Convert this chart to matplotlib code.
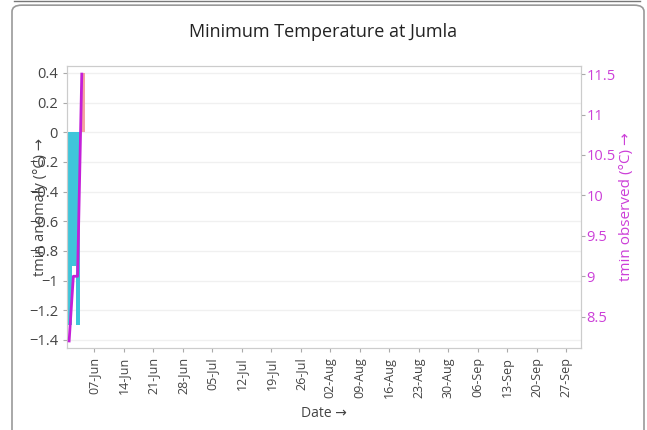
import numpy as np
import pandas as pd
import matplotlib
matplotlib.use("Agg")
import matplotlib.pyplot as plt
import matplotlib.dates as mdates
from matplotlib.patches import FancyBboxPatch

plt.rcParams['font.family'] = ['Open Sans', 'DejaVu Sans']

# данные
dates = pd.to_datetime(["2024-06-01", "2024-06-02", "2024-06-03", "2024-06-04"])
anomaly = [-1.3, -0.9, -1.3, 0.4]
observed = [8.2, 9.0, 9.0, 11.5]
left_ticks = [0.4, 0.2, 0, -0.2, -0.4, -0.6, -0.8, -1, -1.2, -1.4]
right_ticks = [8.5, 9, 9.5, 10, 10.5, 11, 11.5]

cyan = "#3fc5da"
pink = "#f4a3a0"
mag_line = "#c41fd8"
mag_text = "#cc3fd8"
txt = "#444444"

fig = plt.figure(figsize=(6.47, 4.3), dpi=100)
ax = fig.add_axes([0.1036, 0.1907, 0.7944, 0.6558])

# рамка вокруг всего графика
box = FancyBboxPatch((12 / 647, -0.1), 632 / 647, 1.088,
                     boxstyle="round,pad=0,rounding_size=0.015",
                     transform=fig.transFigure, fill=False,
                     edgecolor="#999999", linewidth=1.2)
fig.patches.append(box)
fig.add_artist(plt.Line2D([14 / 647, 640 / 647], [429 / 430, 429 / 430],
                          transform=fig.transFigure, color="#777777", lw=1))

# столбики аномалий (немного смещены влево от даты)
colors = [pink if a > 0 else cyan for a in anomaly]
ax.bar(dates - pd.Timedelta(hours=7), anomaly, width=0.95, align='edge',
       color=colors, linewidth=0, zorder=2)

ax.set_xlim(pd.Timestamp("2024-05-31 12:00"), pd.Timestamp("2024-09-30 12:00"))
ax.set_ylim(-1.454, 0.447)
ax.set_yticks(left_ticks)
ax.set_yticklabels([f"{v:g}".replace("-", "\u2212") for v in left_ticks])
ax.grid(axis='y', color="#f0f0f0", lw=1, zorder=0)

ax.xaxis.set_major_locator(mdates.WeekdayLocator(byweekday=mdates.FR))
ax.xaxis.set_major_formatter(mdates.DateFormatter("%d-%b"))
ax.tick_params(axis='x', rotation=90, labelsize=9, colors=txt, length=3, color="#aaaaaa")
ax.tick_params(axis='y', labelsize=10.5, colors=txt, length=3, color="#aaaaaa")
ax.set_xlabel("Date \u2192", fontsize=10, color=txt, labelpad=6)
ax.set_ylabel("tmin anomaly (°C) \u2192", fontsize=10.5, color=txt, labelpad=-14)

ax2 = ax.twinx()
ax2.plot(dates, observed, color=mag_line, lw=2, zorder=3)
ax2.set_ylim(8.113, 11.6)
ax2.set_yticks(right_ticks)
ax2.set_yticklabels([f"{v:g}" for v in right_ticks])
ax2.tick_params(axis='y', labelsize=10.5, colors=mag_text, length=3, color="#aaaaaa", pad=1)
ax2.set_ylabel("tmin observed (°C) \u2192", fontsize=11, color=mag_text, labelpad=2)

for a in (ax, ax2):
    for s in a.spines.values():
        s.set_color("#cccccc")

fig.text(0.5, 0.925, "Minimum Temperature at Jumla", ha='center', va='center',
         fontsize=13, color="#222222", fontweight='medium')

plt.savefig("out.png", dpi=100)
